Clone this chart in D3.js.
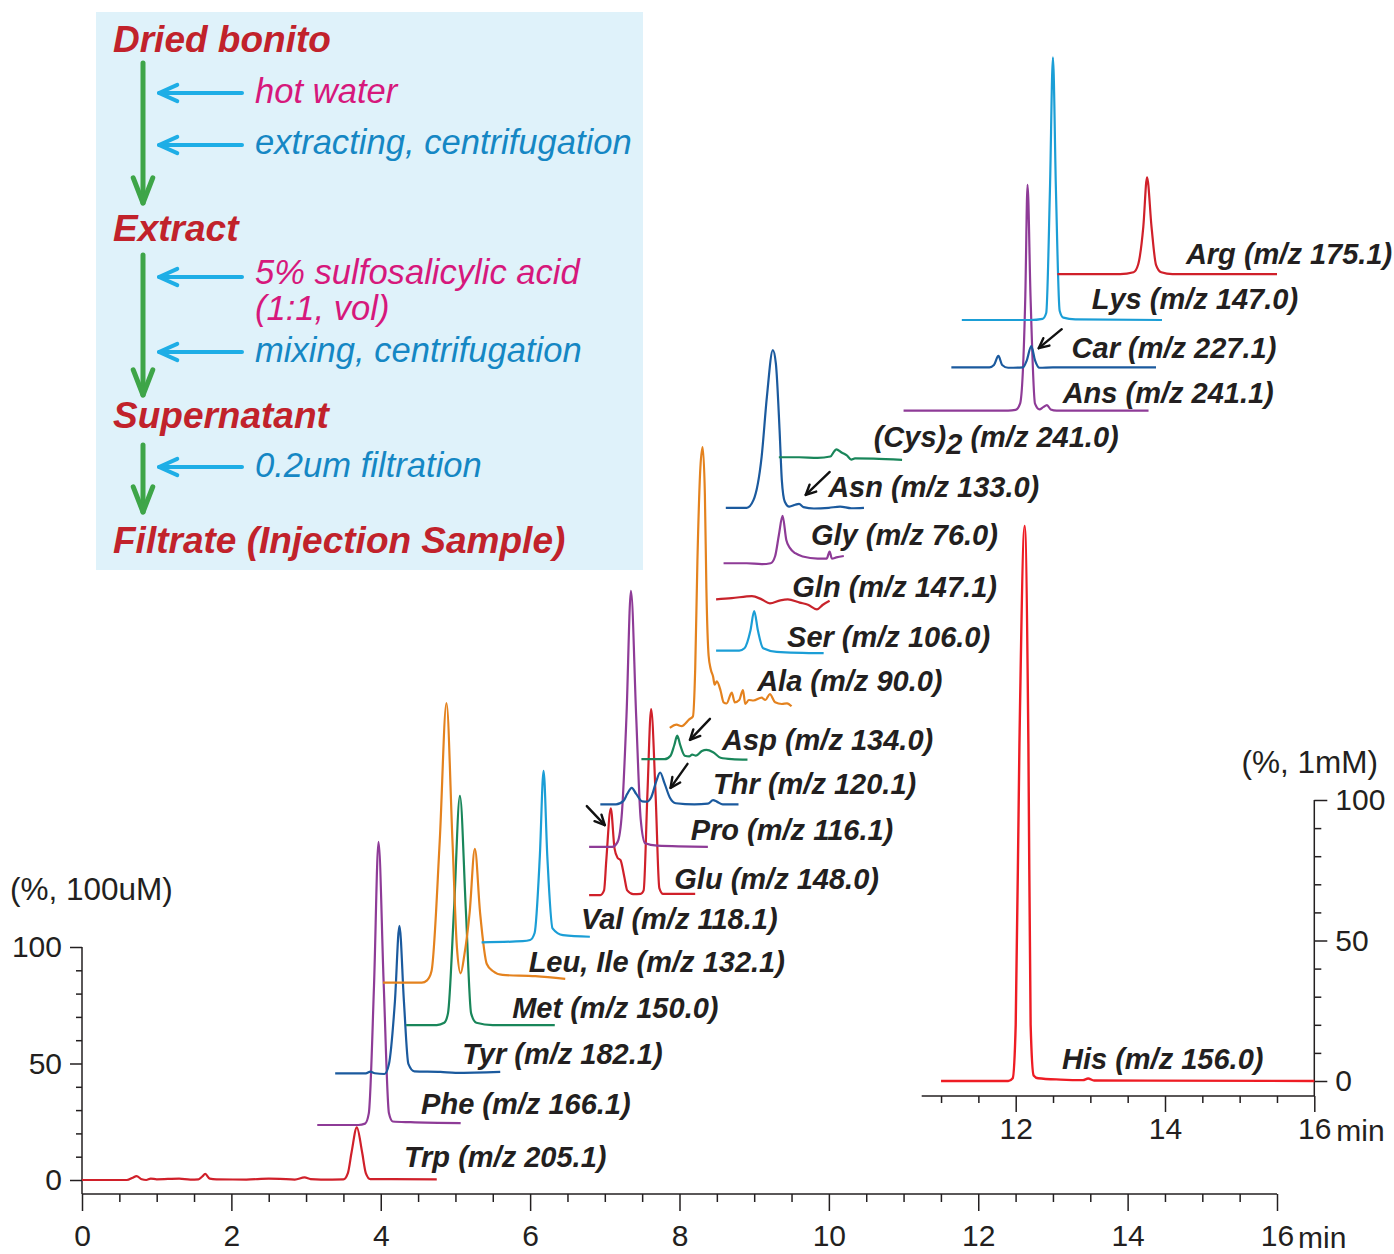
<!DOCTYPE html>
<html lang="en">
<head>
  <meta charset="UTF-8">
  <title>LC-MS amino acids in dried bonito extract</title>
  <script src="https://d3js.org/d3.v7.min.js"></script>
  <style>
    body { margin: 0; background: #fff; }
    svg text { font-family: "Liberation Sans", Arial, Helvetica, sans-serif; }
  </style>
</head>
<body>
  <svg id="chart" width="1394" height="1254"></svg>

  <script>
    // ---------- data (time in min, signal in %) ----------
    // traces listed bottom to top of the stack
    const names = ["Trp", "Phe", "Tyr", "Met", "Leu, Ile", "Val", "Glu", "Pro", "Thr", "Asp",
                   "Ala", "Ser", "Gln", "Gly", "Asn", "(Cys)2", "Ans", "Car", "Lys", "Arg"];
    const mz = ["205.1", "166.1", "182.1", "150.0", "132.1", "118.1", "148.0", "116.1", "120.1", "134.0",
                "90.0", "106.0", "147.1", "76.0", "133.0", "241.0", "241.1", "227.1", "147.0", "175.1"];
    // vertical stacking offset of each trace baseline, in %
    const offsets = [0, 23.6, 45.8, 66.5, 84.7, 102, 122.3, 143, 161.2, 180.6,
                     194, 227.2, 249.2, 264.7, 288.5, 310.2, 330.2, 348.8, 369.1, 388.8];

    const traces = [
      // Trp
      [[0,0],[0.6,0],[0.68,1],[0.73,1.7],[0.8,0.3],[0.86,0],[0.92,0.6],[1.0,0.3],[1.3,0.6],[1.45,0.2],[1.56,0.3],
       [1.61,1.5],[1.65,2.6],[1.71,0.6],[1.8,0.3],[2.2,0.2],[2.5,0.6],[2.65,0.5],[2.85,0.2],[2.98,1.1],[3.06,0.4],
       [3.2,0.2],[3.5,0.3],[3.56,3],[3.61,12],[3.68,22.6],[3.75,12],[3.8,3],[3.86,0.4],[4.75,0.3]],
      // Phe
      [[3.15,0],[3.7,0],[3.79,0.6],[3.84,5],[3.91,60],[3.97,121.5],[4.04,60],[4.11,5],[4.16,1.5],[4.4,1.2],[5.07,0.8]],
      // Tyr
      [[3.39,0],[3.8,0],[3.86,0.7],[3.92,0],[4.05,-0.3],[4.11,4],[4.19,31],[4.25,63.3],[4.31,31],[4.37,4],
       [4.45,0.8],[4.8,0.6],[5.0,0.2],[5.6,0.6]],
      // Met
      [[4.34,0],[4.75,0],[4.85,1],[4.9,5],[4.98,49],[5.06,98.4],[5.14,49],[5.21,5],[5.28,1],[5.5,0],[6.33,0]],
      // Leu, Ile
      [[4.03,0],[4.55,0],[4.62,1],[4.68,5],[4.79,61],[4.88,120],[4.96,61],[5.02,15],[5.07,4],[5.12,12],[5.19,30],
       [5.26,57.4],[5.33,30],[5.42,8],[5.5,5],[5.63,3.3],[6.07,2.8],[6.47,1.6]],
      // Val
      [[5.35,0],[5.9,0.5],[6.0,1],[6.06,4],[6.13,37],[6.18,73.6],[6.23,37],[6.3,6],[6.44,3.1],[6.8,2.4]],
      // Glu
      [[6.79,0],[6.94,0],[6.99,2],[7.02,15],[7.08,37.2],[7.13,20],[7.17,16],[7.21,15],[7.26,8],[7.3,2],
       [7.38,0.4],[7.48,0.5],[7.52,2],[7.57,43],[7.62,79.8],[7.68,43],[7.73,3],[7.78,0.5],[8.21,0.5]],
      // Pro
      [[6.79,0],[7.1,0],[7.17,2],[7.23,15],[7.29,56],[7.35,109.9],[7.42,56],[7.48,12],[7.54,1.5],[7.7,0.5],[8.38,0]],
      // Thr
      [[6.94,0],[7.15,0],[7.25,1.5],[7.3,4.5],[7.36,7.1],[7.42,4.5],[7.5,1.3],[7.56,1.2],[7.62,3],[7.69,10],
       [7.74,13.7],[7.8,9],[7.87,3],[7.95,0.5],[8.2,0],[8.38,0.3],[8.45,1.8],[8.5,1.2],[8.58,0],[8.79,0]],
      // Asp
      [[7.49,0],[7.8,0],[7.88,1.5],[7.93,6],[7.97,10.1],[8.01,6],[8.07,1.5],[8.13,1.2],[8.17,2],[8.22,1.5],
       [8.3,3.5],[8.36,4],[8.45,3],[8.55,0.6],[8.7,0],[8.91,-0.2]],
      // Ala
      [[7.87,0],[7.96,1.4],[8.03,0.8],[8.13,3.7],[8.18,5],[8.21,25],[8.24,72],[8.28,112],[8.31,120.6],[8.34,100],
       [8.36,60],[8.39,31],[8.42,25],[8.45,22],[8.47,18.6],[8.5,20],[8.55,16],[8.59,11],[8.63,10.5],[8.7,15.2],
       [8.74,11],[8.8,12],[8.85,16.3],[8.88,10.3],[8.93,12],[8.99,11.8],[9.1,13],[9.15,12],[9.21,14.5],
       [9.28,11],[9.37,10.3],[9.44,10.6],[9.5,9.3]],
      // Ser
      [[8.49,0],[8.8,0],[8.87,1],[8.95,8.6],[9.0,17],[9.05,8.6],[9.12,1],[9.3,-0.5],[9.93,-1.1]],
      // Gln
      [[8.49,0],[8.7,0.5],[8.97,1.4],[9.1,0],[9.21,-1.7],[9.35,-0.4],[9.45,0],[9.61,-1.4],[9.72,-2.3],
       [9.84,-4.3],[9.92,-2.3],[10.01,-0.6]],
      // Gly
      [[8.59,0],[8.9,0],[9.1,-0.4],[9.22,0],[9.28,3],[9.33,12],[9.38,20.3],[9.43,10],[9.48,6.5],[9.55,4.3],
       [9.65,2.9],[9.85,2],[9.97,2],[10.01,5],[10.04,2],[10.1,2.5],[10.2,3.1]],
      // Asn
      [[8.62,0],[8.9,0],[8.99,3.3],[9.1,22],[9.17,47.6],[9.25,67.7],[9.29,62],[9.34,33.3],[9.37,11.9],[9.41,2.6],
       [9.47,0.5],[9.55,1.3],[9.6,1.7],[9.66,0.3],[9.8,-0.3],[10.0,0],[10.15,0.5],[10.3,-0.2],[10.47,0]],
      // (Cys)2
      [[9.33,0],[9.6,0],[9.85,-0.3],[10.02,0.3],[10.07,2.5],[10.1,3.4],[10.17,2],[10.24,0.8],[10.3,-1],
       [10.35,-0.5],[10.6,-0.6],[10.98,-1.1]],
      // Ans
      [[11.0,0],[12.4,0],[12.5,0.3],[12.56,3],[12.63,49],[12.66,96.9],[12.7,49],[12.76,3],[12.82,0.5],
       [12.87,1.5],[12.92,2.4],[12.97,0.5],[13.05,0],[14.28,0]],
      // Car
      [[11.64,0],[12.15,0],[12.21,1],[12.27,4.9],[12.32,1],[12.4,-0.2],[12.6,0],[12.65,3],[12.71,9.1],
       [12.76,3],[12.82,-0.2],[13.0,0],[14.38,0]],
      // Lys
      [[11.78,0],[12.7,0],[12.86,0.5],[12.91,3],[12.96,56],[13.0,112.7],[13.04,56],[13.09,4],[13.14,1],
       [13.3,0.3],[14.46,0]],
      // Arg
      [[13.06,0],[13.9,0],[14.08,0.8],[14.14,4],[14.21,20.3],[14.26,41.5],[14.32,20.3],[14.38,4],[14.45,0.8],
       [14.6,0],[16.0,0]]
    ];

    // His, plotted on the inset (1 mM scale)
    const hisName = "His";
    const hisMz = "156.0";
    const hisTrace = [[11.0,0],[11.9,0],[11.96,1],[12.0,20],[12.05,120],[12.12,197.5],[12.17,120],[12.2,20],
                      [12.24,2],[12.3,1],[12.6,0.5],[12.9,0.3],[12.97,0.9],[13.05,0.2],[16.0,0]];

    // peaks pointed at by the small black arrows: [trace index, time, signal]
    const arrowMarks = [[6, 7.0, 30], [8, 7.88, 7.1], [9, 8.14, 8.3], [14, 9.69, 5.5], [17, 12.81, 8.2]];

    const mainXTicks = [0, 2, 4, 6, 8, 10, 12, 14, 16];
    const mainYTicks = [0, 50, 100];
    const insetXTicks = [12, 14, 16];
    const insetYTicks = [0, 50, 100];

    // sample preparation flow
    const flowTitles = ["Dried bonito", "Extract", "Supernatant", "Filtrate (Injection Sample)"];
    const flowNotes = [
      [["hot water"], ["extracting, centrifugation"]],
      [["5% sulfosalicylic acid", "(1:1, vol)"], ["mixing, centrifugation"]],
      [["0.2um filtration"]]
    ];
    const noteKinds = [["reagent", "step"], ["reagent", "step"], ["step"]];

    // ---------- styles / layout ----------
    const colors = ["#d0202a", "#8e3b97", "#1b5a9e", "#19865a", "#e4821e", "#1b9ed6",
                    "#d0202a", "#8e3b97", "#1b5a9e", "#19865a", "#e4821e", "#1b9ed6",
                    "#c8232b", "#8e3b97", "#1b5a9e", "#19865a", "#8e3b97", "#1b5a9e", "#1b9ed6", "#d0202a"];
    const hisColor = "#ee1c24";
    const ink = "#231f20";
    // label start (min) and text baseline offset from trace baseline (px)
    const labelAt = [[4.31,-13],[4.54,-11],[5.09,-9],[5.76,-7],[5.98,-11],[6.68,-13],[7.93,-6],[8.15,-7],
                     [8.45,-10],[8.57,-9],[9.04,-37],[9.44,-4],[9.51,-2],[9.76,-18],[9.99,-11],[10.6,-10],
                     [13.13,-8],[13.25,-9],[13.52,-11],[14.78,-10]];
    const arrowTail = [[-18,-19],[17,-24],[20,-21],[24,-23],[23,-19]];

    const svg = d3.select("#chart");

    // scales
    const x = d3.scaleLinear().domain([0, 16]).range([82, 1277]);
    const y = d3.scaleLinear().domain([0, 100]).range([1180, 947]);
    const ix = d3.scaleLinear().domain([12, 16]).range([1015.7, 1314.3]);
    const iy = d3.scaleLinear().domain([0, 100]).range([1081, 800]);
    const xAxisY = 1194;
    const ixAxisY = 1096;

    // ---------- flow chart box ----------
    const flow = svg.append("g");
    flow.append("rect").attr("x", 96).attr("y", 12).attr("width", 547).attr("height", 558)
      .attr("fill", "#dff2fa");

    function arrow(g, x1, y1, x2, y2, color, width, head, spread) {
      const a = Math.atan2(y2 - y1, x2 - x1);
      g.append("line").attr("x1", x1).attr("y1", y1).attr("x2", x2).attr("y2", y2)
        .attr("stroke", color).attr("stroke-width", width).attr("stroke-linecap", "round");
      const p1 = [x2 - head * Math.cos(a - spread), y2 - head * Math.sin(a - spread)];
      const p2 = [x2 - head * Math.cos(a + spread), y2 - head * Math.sin(a + spread)];
      g.append("path").attr("d", `M${p1}L${x2},${y2}L${p2}`)
        .attr("fill", "none").attr("stroke", color).attr("stroke-width", width)
        .attr("stroke-linecap", "round").attr("stroke-linejoin", "round");
    }

    const titleBase = [52, 241, 428, 553];
    const downArrows = [[63, 203], [255, 395], [445, 512]];
    const noteBase = [[103, 154], [284, 362], [477]];
    const noteArrowY = [[93, 145], [277, 352], [467]];

    flowTitles.forEach((t, i) => {
      flow.append("text").attr("x", 113).attr("y", titleBase[i]).text(t)
        .attr("font-size", 37).attr("font-weight", "bold").attr("font-style", "italic")
        .attr("fill", "#c1222b");
    });
    downArrows.forEach(([a, b]) => arrow(flow, 143, a, 143, b, "#3ea548", 5, 27, 0.37));
    flowNotes.forEach((notes, i) => {
      notes.forEach((lines, j) => {
        arrow(flow, 242, noteArrowY[i][j], 159, noteArrowY[i][j], "#1eaee6", 4, 20, 0.42);
        // multi-line notes go in one text element
        const txt = flow.append("text").attr("x", 255).attr("y", noteBase[i][j])
          .attr("font-size", 34.6).attr("font-style", "italic")
          .attr("fill", noteKinds[i][j] === "reagent" ? "#d6187c" : "#1587c4");
        lines.forEach((ln, k) => {
          txt.append("tspan").attr("x", 255).attr("dy", k === 0 ? 0 : 36).text(ln);
        });
      });
    });

    // ---------- main axes ----------
    const axes = svg.append("g").attr("color", ink);
    const gx = axes.append("g").attr("transform", `translate(0,${xAxisY})`)
      .call(d3.axisBottom(x).tickValues(mainXTicks).tickSize(17).tickPadding(14).tickSizeOuter(0)
        .tickFormat(d3.format("d")));
    axes.append("g").attr("transform", `translate(0,${xAxisY})`)
      .call(d3.axisBottom(x).tickValues(d3.range(0, 16.01, 0.5).filter(d => d % 2 !== 0))
        .tickSize(8).tickFormat("").tickSizeOuter(0))
      .call(g => g.select(".domain").remove());
    gx.select(".domain").remove();
    axes.append("line").attr("x1", x(0)).attr("x2", x(16)).attr("y1", xAxisY).attr("y2", xAxisY)
      .attr("stroke", ink).attr("stroke-width", 1.5);
    axes.append("text").attr("x", x(16) + 21).attr("y", xAxisY + 54).text("min")
      .attr("font-size", 30).attr("fill", ink);

    const gy = axes.append("g").attr("transform", `translate(${x(0)},0)`)
      .call(d3.axisLeft(y).tickValues(mainYTicks).tickSize(12).tickPadding(8).tickSizeOuter(0));
    axes.append("g").attr("transform", `translate(${x(0)},0)`)
      .call(d3.axisLeft(y).tickValues(d3.range(10, 100, 10).filter(d => d !== 50)).tickSize(6)
        .tickFormat("").tickSizeOuter(0))
      .call(g => g.select(".domain").remove());
    gy.select(".domain").remove();
    axes.append("line").attr("x1", x(0)).attr("x2", x(0)).attr("y1", y(100)).attr("y2", xAxisY)
      .attr("stroke", ink).attr("stroke-width", 1.5);
    axes.append("text").attr("x", 10).attr("y", 900).text("(%, 100uM)")
      .attr("font-size", 31.5).attr("fill", ink);

    // ---------- inset axes ----------
    const gix = axes.append("g").attr("transform", `translate(0,${ixAxisY})`)
      .call(d3.axisBottom(ix).tickValues(insetXTicks).tickSize(16).tickPadding(6).tickSizeOuter(0)
        .tickFormat(d3.format("d")));
    axes.append("g").attr("transform", `translate(0,${ixAxisY})`)
      .call(d3.axisBottom(ix).tickValues(d3.range(11, 16, 0.5).filter(d => d % 2 !== 0))
        .tickSize(7).tickFormat("").tickSizeOuter(0))
      .call(g => g.select(".domain").remove());
    gix.select(".domain").remove();
    axes.append("line").attr("x1", 921.7).attr("x2", ix(16)).attr("y1", ixAxisY).attr("y2", ixAxisY)
      .attr("stroke", ink).attr("stroke-width", 1.5);
    axes.append("text").attr("x", ix(16) + 22).attr("y", ixAxisY + 45).text("min")
      .attr("font-size", 30).attr("fill", ink);

    const giy = axes.append("g").attr("transform", `translate(${ix(16)},0)`)
      .call(d3.axisRight(iy).tickValues(insetYTicks).tickSize(13).tickPadding(8).tickSizeOuter(0));
    axes.append("g").attr("transform", `translate(${ix(16)},0)`)
      .call(d3.axisRight(iy).tickValues(d3.range(10, 100, 10).filter(d => d !== 50)).tickSize(7)
        .tickFormat("").tickSizeOuter(0))
      .call(g => g.select(".domain").remove());
    giy.select(".domain").remove();
    axes.append("line").attr("x1", ix(16)).attr("x2", ix(16)).attr("y1", iy(100)).attr("y2", ixAxisY)
      .attr("stroke", ink).attr("stroke-width", 1.5);
    axes.append("text").attr("x", 1378).attr("y", 773).attr("text-anchor", "end").text("(%, 1mM)")
      .attr("font-size", 31.5).attr("fill", ink);

    axes.selectAll(".tick line").attr("stroke", ink).attr("stroke-width", 1.5);
    axes.selectAll(".tick text").attr("font-size", 30).attr("fill", ink)
      .attr("font-family", "'Liberation Sans', Arial, Helvetica, sans-serif");

    // ---------- traces ----------
    const plot = svg.append("g");
    traces.forEach((pts, i) => {
      const line = d3.line()
        .x(d => x(d[0]))
        .y(d => y(d[1] + offsets[i]))
        .curve(d3.curveMonotoneX);
      plot.append("path").attr("d", line(pts))
        .attr("fill", "none").attr("stroke", colors[i]).attr("stroke-width", 2.2)
        .attr("stroke-linejoin", "round");
    });
    const hisLine = d3.line().x(d => ix(d[0])).y(d => iy(d[1])).curve(d3.curveMonotoneX);
    plot.append("path").attr("d", hisLine(hisTrace))
      .attr("fill", "none").attr("stroke", hisColor).attr("stroke-width", 2.4);

    // ---------- trace labels ----------
    const labels = svg.append("g").attr("font-size", 29).attr("font-weight", "bold")
      .attr("font-style", "italic").attr("fill", ink);
    names.forEach((n, i) => {
      const t = labels.append("text")
        .attr("x", x(labelAt[i][0]))
        .attr("y", y(offsets[i]) + labelAt[i][1]);
      if (n === "(Cys)2") {
        t.append("tspan").text("(Cys)");
        t.append("tspan").attr("dy", 7).text("2");
        t.append("tspan").attr("dy", -7).text(` (m/z ${mz[i]})`);
      } else {
        t.text(`${n} (m/z ${mz[i]})`);
      }
    });
    labels.append("text").attr("x", ix(12.62)).attr("y", iy(0) - 12).text(`${hisName} (m/z ${hisMz})`);

    // ---------- black arrows at minor peaks ----------
    const marks = svg.append("g");
    arrowMarks.forEach(([i, t, v], k) => {
      const hx = x(t), hy = y(v + offsets[i]);
      arrow(marks, hx + arrowTail[k][0], hy + arrowTail[k][1], hx, hy, "#111", 2.4, 11, 0.45);
    });
  </script>
</body>
</html>
